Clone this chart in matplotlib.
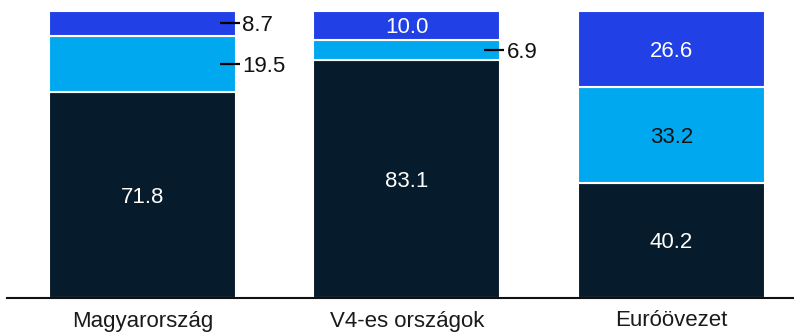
import matplotlib.pyplot as plt
import numpy as np

plt.rcParams['font.family'] = ['Liberation Sans', 'DejaVu Sans']

# Data (percent shares, bottom to top)
categories = ['Magyarország', 'V4-es országok', 'Euróövezet']
bottom_vals = [71.8, 83.1, 40.2]
middle_vals = [19.5, 6.9, 33.2]
top_vals = [8.7, 10.0, 26.6]

colors = ['#061b2c', '#00a8f0', '#2140e6']
text_colors = ['white', '#111111', 'white']

# (bar, segment) pairs labelled outside the bar with a short leader line
outside = {(0, 1), (0, 2), (1, 1)}
BAR_WIDTH = 0.707

fig = plt.figure(figsize=(7.94, 3.34), dpi=100)
ax = fig.add_axes([7 / 794, 36 / 334, 787 / 794, 287 / 334])

x = np.arange(len(categories))
series = [bottom_vals, middle_vals, top_vals]
base = np.zeros(len(categories))

for si, (vals, col, tcol) in enumerate(zip(series, colors, text_colors)):
    vals = np.array(vals)
    ax.bar(x, vals, BAR_WIDTH, bottom=base, color=col,
           edgecolor='white', linewidth=1.5)
    for xi, b, v in zip(x, base, vals):
        yc = b + v / 2
        if (xi, si) not in outside:
            ax.text(xi, yc, f'{v:.1f}', ha='center', va='center_baseline',
                    color=tcol, fontsize=16, clip_on=False)
        else:
            ax.plot([xi + 0.293, xi + 0.367], [yc, yc], color='black',
                    lw=1.6, solid_capstyle='butt', clip_on=False, zorder=5)
            ax.text(xi + 0.378, yc, f'{v:.1f}', ha='left',
                    va='center_baseline', color='#111111', fontsize=16,
                    clip_on=False)
    base = base + vals

ax.set_xlim(-0.512, 2.463)
ax.set_ylim(0, 100)
ax.set_yticks([])
ax.set_xticks(x)
ax.set_xticklabels(categories, fontsize=16, color='#1a1a1a')
ax.tick_params(axis='x', length=0, pad=9)
for side in ['top', 'right', 'left']:
    ax.spines[side].set_visible(False)
ax.spines['bottom'].set_linewidth(1.5)
ax.spines['bottom'].set_color('#111111')

fig.savefig('out.png', dpi=100)
